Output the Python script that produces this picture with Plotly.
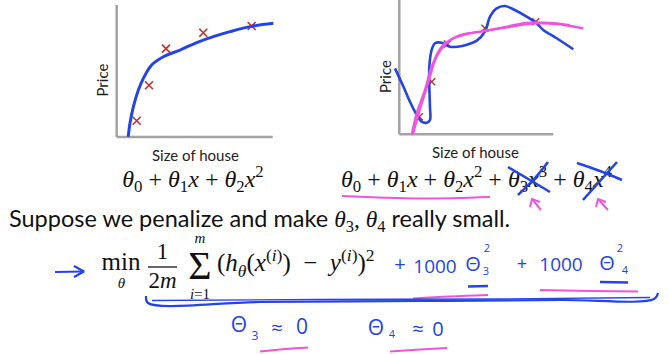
import plotly.graph_objects as go

W, H = 670, 354

# ---------------- data ----------------
# left chart (size of house vs price, arbitrary units 0-100)
left_fit_x = [7.4, 8.5, 10.7, 13.9, 17.1, 22.4, 29.9, 40.6, 51.3, 61.9, 72.6, 85.4, 100.4]
left_fit_y = [0.2, 10.4, 23.0, 35.6, 44.4, 54.5, 60.8, 65.9, 71.5, 76.0, 79.8, 83.6, 86.1]
left_pts_x = [12.8, 20.7, 31.6, 55.5, 86.5]
left_pts_y = [12.3, 39.2, 66.9, 79.0, 84.1]

# right chart
right_overfit_x = [-2.8, 2.7, 6.9, 11.3, 14.5, 17.8, 19.9, 19.9, 19.5, 19.5, 21.0, 23.2, 27.5, 32.9,
                   41.6, 50.3, 55.6, 58.9, 63.2, 68.6, 74.0, 82.7, 89.2, 93.5, 102.2, 113.0]
right_overfit_y = [49.1, 35.4, 24.3, 14.4, 9.4, 8.6, 10.6, 20.6, 35.4, 50.3, 62.8, 67.8, 68.2, 65.2,
                   66.0, 69.7, 76.4, 87.6, 93.8, 95.5, 93.1, 87.6, 82.6, 77.7, 71.5, 63.3]
right_fitA_x = [8.1, 11.3, 16.7, 21.0, 27.5, 35.1, 45.9, 56.8, 71.9, 89.2, 102.2, 119.5]
right_fitA_y = [-0.5, 15.6, 33.0, 50.3, 65.2, 71.5, 75.2, 77.1, 80.1, 82.6, 82.1, 78.9]
right_fitB_x = [9.1, 13.4, 18.8, 24.3, 30.8, 39.4, 52.4, 67.5, 82.7, 97.9, 110.8]
right_fitB_y = [0.7, 18.1, 38.0, 57.8, 67.8, 73.9, 76.4, 79.7, 83.1, 83.1, 81.4]
right_pts_x = [13.0, 21.0, 31.2, 55.6, 88.6]
right_pts_y = [13.1, 39.2, 67.2, 78.9, 83.8]

# hand-drawn strokes on the slide (slide pixel coordinates, y downward)
arrow_shaft = [(55, 272), (83, 271.5)]
arrow_head = [(74, 266), (84, 271.5), (74, 277)]
brace_a = [(146, 296), (148, 303), (260, 302), (420, 301), (560, 300), (654, 299), (658, 293)]
brace_b = [(152, 300.5), (320, 299.5), (500, 299), (650, 297.5)]
frac_bar = [(148, 267), (177, 267)]
ul_quad = [(342, 196), (420, 198.5), (490, 197)]
cross3_a = [(508, 167), (530, 180), (550, 192)]
cross3_b = [(518, 195), (535, 178), (548, 162)]
cross4_a = [(577, 163), (600, 171), (622, 180)]
cross4_b = [(583, 200), (600, 181), (617, 162)]
up3_stem = [(532, 199), (541, 210)]
up3_head = [(530, 207), (532, 199), (540, 202)]
up4_stem = [(598, 199), (608, 210)]
up4_head = [(596, 207), (598, 199), (606, 202)]
ul_pen3_m = [(413, 298.5), (450, 296.5), (488, 295)]
ul_pen4_m = [(540, 290), (590, 291), (638, 291.5)]
ul_pen3_b = [(468, 286.5), (488, 286)]
ul_pen4_b = [(600, 282), (628, 282.5)]
ul_bot3 = [(260, 351.5), (285, 349), (308, 347.5)]
ul_bot4 = [(390, 351.5), (420, 349.5), (447, 348)]

BLUE = "#2344e6"
MAG = "#ee55de"
RED = "#c4302a"
GREY = "#a3a3a3"
SANS = "Lato"
SERIF = "Liberation Serif"
HW = "Open Sans"

fig = go.Figure()

# ---------------- geometry helpers ----------------
def xdom(p0, p1):
    return [p0 / W, p1 / W]

def ydom(top, bottom):
    return [1 - bottom / H, 1 - top / H]

def rng(d0, d1, p_zero, p_hundred):
    s = (p_hundred - p_zero) / 100.0
    return [(d0 - p_zero) / s, (d1 - p_zero) / s]

# left chart: data 0..100 at px 116.7..272.7 (x) and 137..5 (y)
LX0, LX1, LY0, LY1 = 116.7, 272.7, 137, 5
LD = (108, 282, 0, 142)
# right chart
RX0, RX1, RY0, RY1 = 399.3, 553.3, 134.3, 0
RD = (385, 600, 0, 140)

ax_common = dict(visible=False, showgrid=False, zeroline=False, fixedrange=True)
fig.update_layout(
    xaxis=dict(domain=xdom(LD[0], LD[1]), range=rng(LD[0], LD[1], LX0, LX1), anchor="y", **ax_common),
    yaxis=dict(domain=ydom(LD[2], LD[3]), range=rng(LD[3], LD[2], LY0, LY1), anchor="x", **ax_common),
    xaxis2=dict(domain=xdom(RD[0], RD[1]), range=rng(RD[0], RD[1], RX0, RX1), anchor="y2", **ax_common),
    yaxis2=dict(domain=ydom(RD[2], RD[3]), range=rng(RD[3], RD[2], RY0, RY1), anchor="x2", **ax_common),
    xaxis3=dict(domain=[0, 1], range=[0, W], anchor="y3", **ax_common),
    yaxis3=dict(domain=[0, 1], range=[H, 0], anchor="x3", **ax_common),
)

# axis lines (as drawn on the slide)
for xr, yr in (("x", "y"), ("x2", "y2")):
    fig.add_shape(type="line", xref=xr, yref=yr, x0=0, y0=0, x1=0, y1=100,
                  line=dict(color=GREY, width=2.5), layer="below")
    fig.add_shape(type="line", xref=xr, yref=yr, x0=0, y0=0, x1=100, y1=0,
                  line=dict(color=GREY, width=2.5), layer="below")

# left chart marks
fig.add_trace(go.Scatter(x=left_pts_x, y=left_pts_y, mode="markers", xaxis="x", yaxis="y",
                         marker=dict(symbol="x-thin", size=8, line=dict(color=RED, width=1.6))))
fig.add_trace(go.Scatter(x=left_fit_x, y=left_fit_y, mode="lines", xaxis="x", yaxis="y",
                         line=dict(color=BLUE, width=3, shape="spline")))

# right chart marks
fig.add_trace(go.Scatter(x=right_pts_x, y=right_pts_y, mode="markers", xaxis="x2", yaxis="y2",
                         marker=dict(symbol="x-thin", size=7, line=dict(color=RED, width=1.4))))
fig.add_trace(go.Scatter(x=right_overfit_x, y=right_overfit_y, mode="lines", xaxis="x2", yaxis="y2",
                         line=dict(color=BLUE, width=2.6, shape="spline")))
fig.add_trace(go.Scatter(x=right_fitA_x, y=right_fitA_y, mode="lines", xaxis="x2", yaxis="y2",
                         line=dict(color=MAG, width=2.4, shape="spline")))
fig.add_trace(go.Scatter(x=right_fitB_x, y=right_fitB_y, mode="lines", xaxis="x2", yaxis="y2",
                         line=dict(color=MAG, width=2.0, shape="spline")))

# ---------------- slide text (overlay axis, pixel coords) ----------------
def txt(x, y, s, size, color="#111111", family=SERIF, pos="middle center"):
    fig.add_trace(go.Scatter(x=[x], y=[y], mode="text", text=[s], textposition=pos,
                             xaxis="x3", yaxis="y3",
                             textfont=dict(size=size, color=color, family=family)))

def th(n):
    return "<i>θ</i><sub>%s</sub>" % n

quad = "%s + %s<i>x</i> + %s<i>x</i><sup>2</sup>" % (th(0), th(1), th(2))
quart = quad + " + %s<i>x</i><sup>3</sup> + %s<i>x</i><sup>4</sup>" % (th(3), th(4))
txt(193, 181, quad, 24)
txt(341, 181, quart, 24, pos="middle right")

sent = ("Suppose we penalize and make "
        "<span style='font-family:Liberation Serif'><i>θ</i><sub>3</sub>, <i>θ</i><sub>4</sub></span>"
        " really small.")
txt(9, 221, sent, 23.5, family=SANS, pos="middle right")

# cost function
txt(121, 264, "min", 25)
txt(121.5, 284, "<i>θ</i>", 15)
txt(162.5, 253, "1", 23)
txt(162.5, 282, "2<i>m</i>", 23)
txt(200, 269, "Σ", 40)
txt(200, 239, "<i>m</i>", 15)
txt(200, 295, "<i>i</i>=1", 15)
txt(217, 265, "(<i>h</i><sub><i>θ</i></sub>(<i>x</i><sup>(<i>i</i>)</sup>)\u2002−\u2002<i>y</i><sup>(<i>i</i>)</sup>)<sup>2</sup>",
    25, pos="middle right")

# handwritten penalty terms
txt(400, 266, "+", 20, BLUE, HW)
txt(435, 268, "1000", 19, BLUE, HW)
txt(473, 266, "Θ", 20, BLUE, HW)
txt(486, 272, "3", 11, BLUE, HW)
txt(487, 249, "2", 11, BLUE, HW)
txt(522, 265, "+", 18, BLUE, HW)
txt(561, 266, "1000", 19, BLUE, HW)
txt(607, 265, "Θ", 20, BLUE, HW)
txt(625, 271, "4", 11, BLUE, HW)
txt(620, 249, "2", 11, BLUE, HW)

# bottom handwritten results
txt(239, 327, "Θ", 21, BLUE, HW)
txt(255, 337, "3", 12, BLUE, HW)
txt(277, 330, "≈", 20, BLUE, HW)
txt(302, 329, "0", 21, BLUE, HW)
txt(376, 330, "Θ", 21, BLUE, HW)
txt(392, 335, "4", 11, BLUE, HW)
txt(418, 331, "≈", 20, BLUE, HW)
txt(438, 331, "0", 20, BLUE, HW)

# ---------------- strokes ----------------
def stroke(pts, color, width, shape="spline"):
    fig.add_trace(go.Scatter(x=[p[0] for p in pts], y=[p[1] for p in pts], mode="lines",
                             xaxis="x3", yaxis="y3",
                             line=dict(color=color, width=width, shape=shape)))

stroke(frac_bar, "#111111", 1.3, "linear")
stroke(arrow_shaft, BLUE, 2.2, "linear")
stroke(arrow_head, BLUE, 2.2, "linear")
stroke(ul_quad, MAG, 2.2)
for s in (cross3_a, cross3_b, cross4_a, cross4_b):
    stroke(s, BLUE, 2.6)
for s in (up3_stem, up3_head, up4_stem, up4_head):
    stroke(s, MAG, 2.0, "linear")
stroke(ul_pen3_m, MAG, 2.2)
stroke(ul_pen4_m, MAG, 2.2)
stroke(ul_pen3_b, BLUE, 2.6)
stroke(ul_pen4_b, BLUE, 2.6)
stroke(brace_a, BLUE, 2.2)
stroke(brace_b, BLUE, 1.4)
stroke(ul_bot3, MAG, 2.0)
stroke(ul_bot4, MAG, 2.0)

# axis labels
ann = [
    dict(x=101.5, y=80, text="Price", textangle=-90),
    dict(x=195, y=155, text="Size of house"),
    dict(x=385, y=77, text="Price", textangle=-90),
    dict(x=475, y=152, text="Size of house"),
]
for a in ann:
    fig.add_annotation(xref="x3", yref="y3", showarrow=False,
                       font=dict(family=SANS, size=15, color="#222222"), **a)

fig.update_layout(width=W, height=H, margin=dict(l=0, r=0, t=0, b=0),
                  paper_bgcolor="white", plot_bgcolor="rgba(0,0,0,0)", showlegend=False)

fig.write_html("out.html")
